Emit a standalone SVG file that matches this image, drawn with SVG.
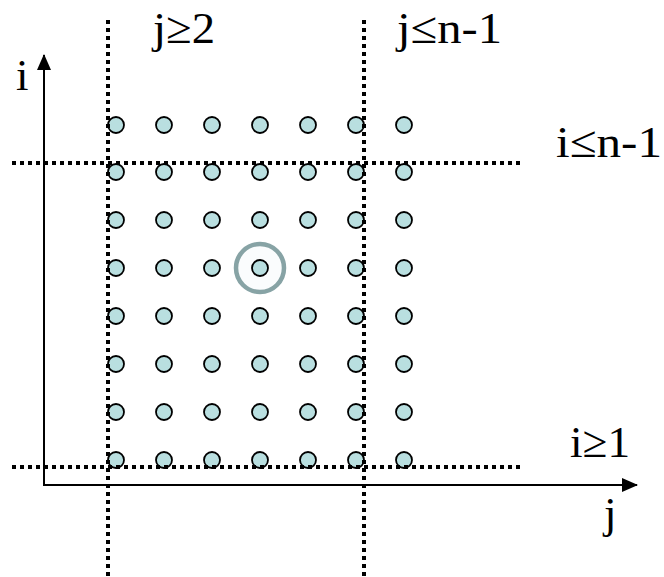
<svg xmlns="http://www.w3.org/2000/svg" width="664" height="577" viewBox="0 0 664 577">
<style>
.lbl{font-family:"Liberation Serif","Times New Roman",serif;font-size:45px;fill:#000}
.dot{fill:#b9dfe0;stroke:#000;stroke-width:1.8}
.dl{stroke:#000;stroke-width:4;stroke-dasharray:4 4;fill:none}
.ax{stroke:#000;stroke-width:2;fill:none}
</style>
<defs>
<marker id="ah" markerWidth="16" markerHeight="14" refX="15" refY="7" orient="auto" markerUnits="userSpaceOnUse">
<path d="M0,0 L16,7 L0,14 Z" fill="#000"/>
</marker>
</defs>
<rect width="664" height="577" fill="#fff"/>
<g id="connectors">
<line class="ax" x1="44" y1="485" x2="44" y2="55" marker-end="url(#ah)"/>
<line class="ax" x1="43" y1="485" x2="637" y2="485" marker-end="url(#ah)"/>
</g>
<g id="grid">
<g id="row1"><circle class="dot" cx="116" cy="125" r="8"/><circle class="dot" cx="164" cy="125" r="8"/><circle class="dot" cx="212" cy="125" r="8"/><circle class="dot" cx="260" cy="125" r="8"/><circle class="dot" cx="308" cy="125" r="8"/><circle class="dot" cx="356" cy="125" r="8"/><circle class="dot" cx="404" cy="125" r="8"/></g>
<g id="row2"><circle class="dot" cx="116" cy="172" r="8"/><circle class="dot" cx="164" cy="172" r="8"/><circle class="dot" cx="212" cy="172" r="8"/><circle class="dot" cx="260" cy="172" r="8"/><circle class="dot" cx="308" cy="172" r="8"/><circle class="dot" cx="356" cy="172" r="8"/><circle class="dot" cx="404" cy="172" r="8"/></g>
<g id="row3"><circle class="dot" cx="116" cy="220" r="8"/><circle class="dot" cx="164" cy="220" r="8"/><circle class="dot" cx="212" cy="220" r="8"/><circle class="dot" cx="260" cy="220" r="8"/><circle class="dot" cx="308" cy="220" r="8"/><circle class="dot" cx="356" cy="220" r="8"/><circle class="dot" cx="404" cy="220" r="8"/></g>
<g id="row4"><circle class="dot" cx="116" cy="268" r="8"/><circle class="dot" cx="164" cy="268" r="8"/><circle class="dot" cx="212" cy="268" r="8"/><circle cx="260" cy="268" r="24" fill="#fafcfd" stroke="#87a3a5" stroke-width="4.5"/><circle class="dot" cx="260" cy="268" r="8"/><circle class="dot" cx="308" cy="268" r="8"/><circle class="dot" cx="356" cy="268" r="8"/><circle class="dot" cx="404" cy="268" r="8"/></g>
<g id="row5"><circle class="dot" cx="116" cy="316" r="8"/><circle class="dot" cx="164" cy="316" r="8"/><circle class="dot" cx="212" cy="316" r="8"/><circle class="dot" cx="260" cy="316" r="8"/><circle class="dot" cx="308" cy="316" r="8"/><circle class="dot" cx="356" cy="316" r="8"/><circle class="dot" cx="404" cy="316" r="8"/></g>
<g id="row6"><circle class="dot" cx="116" cy="364" r="8"/><circle class="dot" cx="164" cy="364" r="8"/><circle class="dot" cx="212" cy="364" r="8"/><circle class="dot" cx="260" cy="364" r="8"/><circle class="dot" cx="308" cy="364" r="8"/><circle class="dot" cx="356" cy="364" r="8"/><circle class="dot" cx="404" cy="364" r="8"/></g>
<g id="row7"><circle class="dot" cx="116" cy="412" r="8"/><circle class="dot" cx="164" cy="412" r="8"/><circle class="dot" cx="212" cy="412" r="8"/><circle class="dot" cx="260" cy="412" r="8"/><circle class="dot" cx="308" cy="412" r="8"/><circle class="dot" cx="356" cy="412" r="8"/><circle class="dot" cx="404" cy="412" r="8"/></g>
<g id="row8"><circle class="dot" cx="116" cy="460" r="8"/><circle class="dot" cx="164" cy="460" r="8"/><circle class="dot" cx="212" cy="460" r="8"/><circle class="dot" cx="260" cy="460" r="8"/><circle class="dot" cx="308" cy="460" r="8"/><circle class="dot" cx="356" cy="460" r="8"/><circle class="dot" cx="404" cy="460" r="8"/></g>
</g>
<g id="bounds">
<line class="dl" x1="108" y1="20" x2="108" y2="577"/>
<line class="dl" x1="364" y1="20" x2="364" y2="577"/>
<line class="dl" x1="12" y1="163" x2="522" y2="163"/>
<line class="dl" x1="12" y1="467" x2="522" y2="467"/>
</g>
<g id="labels">
<text class="lbl" x="153" y="43" textLength="62" lengthAdjust="spacingAndGlyphs">j≥2</text>
<text class="lbl" x="397" y="43" textLength="105" lengthAdjust="spacingAndGlyphs">j≤n-1</text>
<text class="lbl" x="16" y="90">i</text>
<text class="lbl" x="556" y="157" textLength="106" lengthAdjust="spacingAndGlyphs">i≤n-1</text>
<text class="lbl" x="570" y="457" textLength="60" lengthAdjust="spacingAndGlyphs">i≥1</text>
<text class="lbl" x="604" y="528">j</text>
</g>
</svg>
